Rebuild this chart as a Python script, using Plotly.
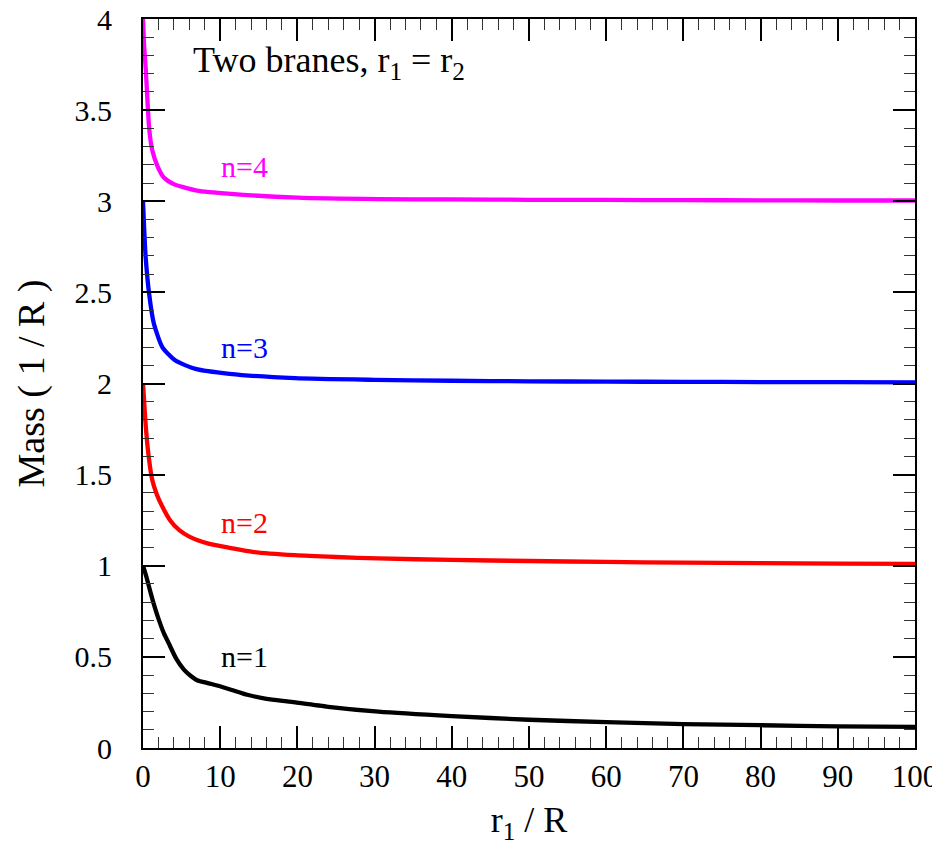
import plotly.graph_objects as go

# n=1
x1 = [0, 0.5, 1, 1.4, 2, 2.7, 3.5, 4.3, 5.3, 6.2, 7, 8.5, 9.6, 11.4, 13.5, 16, 19, 24, 30.5, 40, 50, 60, 70, 80, 90, 100]
y1 = [1.0, 0.93, 0.85, 0.79, 0.71, 0.63, 0.56, 0.49, 0.43, 0.395, 0.372, 0.355, 0.343, 0.32, 0.292, 0.27, 0.254, 0.226, 0.199, 0.175, 0.155, 0.142, 0.131, 0.125, 0.119, 0.116]
# n=2
x2 = [0, 0.3, 0.6, 1.2, 1.8, 2.5, 3.5, 4.7, 6, 8.6, 11.4, 14.2, 19.7, 25, 30.5, 40, 50, 60, 70, 80, 90, 100]
y2 = [2.0, 1.8, 1.65, 1.47, 1.39, 1.325, 1.25, 1.195, 1.16, 1.12, 1.097, 1.076, 1.058, 1.048, 1.04, 1.032, 1.026, 1.021, 1.017, 1.014, 1.012, 1.01]
# n=3
x3 = [0, 0.15, 0.35, 0.8, 1.4, 2.5, 4.2, 6.8, 11.2, 19.7, 30, 40, 50, 60, 70, 80, 90, 100]
y3 = [3.0, 2.85, 2.69, 2.49, 2.33, 2.20, 2.126, 2.08, 2.053, 2.029, 2.02, 2.015, 2.012, 2.01, 2.009, 2.008, 2.007, 2.006]
# n=4
x4 = [0, 0.15, 0.35, 0.8, 1.2, 1.9, 2.7, 4.0, 7.0, 11.4, 20, 30.5, 40, 50, 60, 70, 80, 90, 100]
y4 = [4.0, 3.85, 3.73, 3.40, 3.28, 3.19, 3.13, 3.094, 3.058, 3.04, 3.02, 3.012, 3.01, 3.008, 3.007, 3.006, 3.005, 3.004, 3.004]

series_names = ["n=1", "n=2", "n=3", "n=4"]
colors = ["#000000", "#ff0000", "#0000ff", "#ff00ff"]
label_x = [13.2, 13.2, 13.2, 13.2]
label_y = [0.50, 1.24, 2.20, 3.19]

FONT = "'Liberation Serif', 'Times New Roman', Times, serif"

fig = go.Figure()
for xs, ys, c, nm in zip([x1, x2, x3, x4], [y1, y2, y3, y4], colors, series_names):
    fig.add_trace(go.Scatter(x=xs, y=ys, mode="lines", line=dict(color=c, width=4.3, shape="spline", smoothing=0.6),
                             name=nm, showlegend=False))

for nm, c, lx, ly in zip(series_names, colors, label_x, label_y):
    fig.add_annotation(x=lx, y=ly, text=nm, showarrow=False, font=dict(family=FONT, size=30, color=c),
                       xanchor="center", yanchor="middle")

fig.add_annotation(x=6.2, y=3.76, text="Two branes, r<sub>1</sub> = r<sub>2</sub>", showarrow=False,
                   font=dict(family=FONT, size=36, color="black"), xanchor="left", yanchor="middle")

axis_common = dict(showgrid=False, zeroline=False, showline=True, linecolor="black", linewidth=2,
                   mirror="ticks", ticks="inside", ticklen=22, tickwidth=1.5, tickcolor="black",
                   automargin=False, ticklabeloverflow="allow")

fig.update_xaxes(range=[0, 100], dtick=10, tick0=0,
                 minor=dict(dtick=2, ticks="inside", ticklen=11, tickwidth=1.3, tickcolor="#333333"),
                 tickfont=dict(family=FONT, size=31, color="black"),
                 title=dict(text="r<sub>1</sub> / R", font=dict(family=FONT, size=36, color="black"), standoff=14),
                 **axis_common)
fig.update_yaxes(range=[0, 4], dtick=0.5, tick0=0,
                 minor=dict(dtick=0.1, ticks="inside", ticklen=11, tickwidth=1.3, tickcolor="#333333"),
                 tickfont=dict(family=FONT, size=30, color="black"),
                 ticklabelstandoff=23,
                 title=dict(text="Mass ( 1 / R )", font=dict(family=FONT, size=38, color="black"), standoff=18),
                 **axis_common)

# page body has an 8px margin; compensate so the plot area lands where the reference has it
fig.update_layout(width=932, height=842, plot_bgcolor="white", paper_bgcolor="white",
                  margin=dict(l=135, r=25, t=11, b=102), font=dict(family=FONT, color="black"))

fig.write_html("out.html")
